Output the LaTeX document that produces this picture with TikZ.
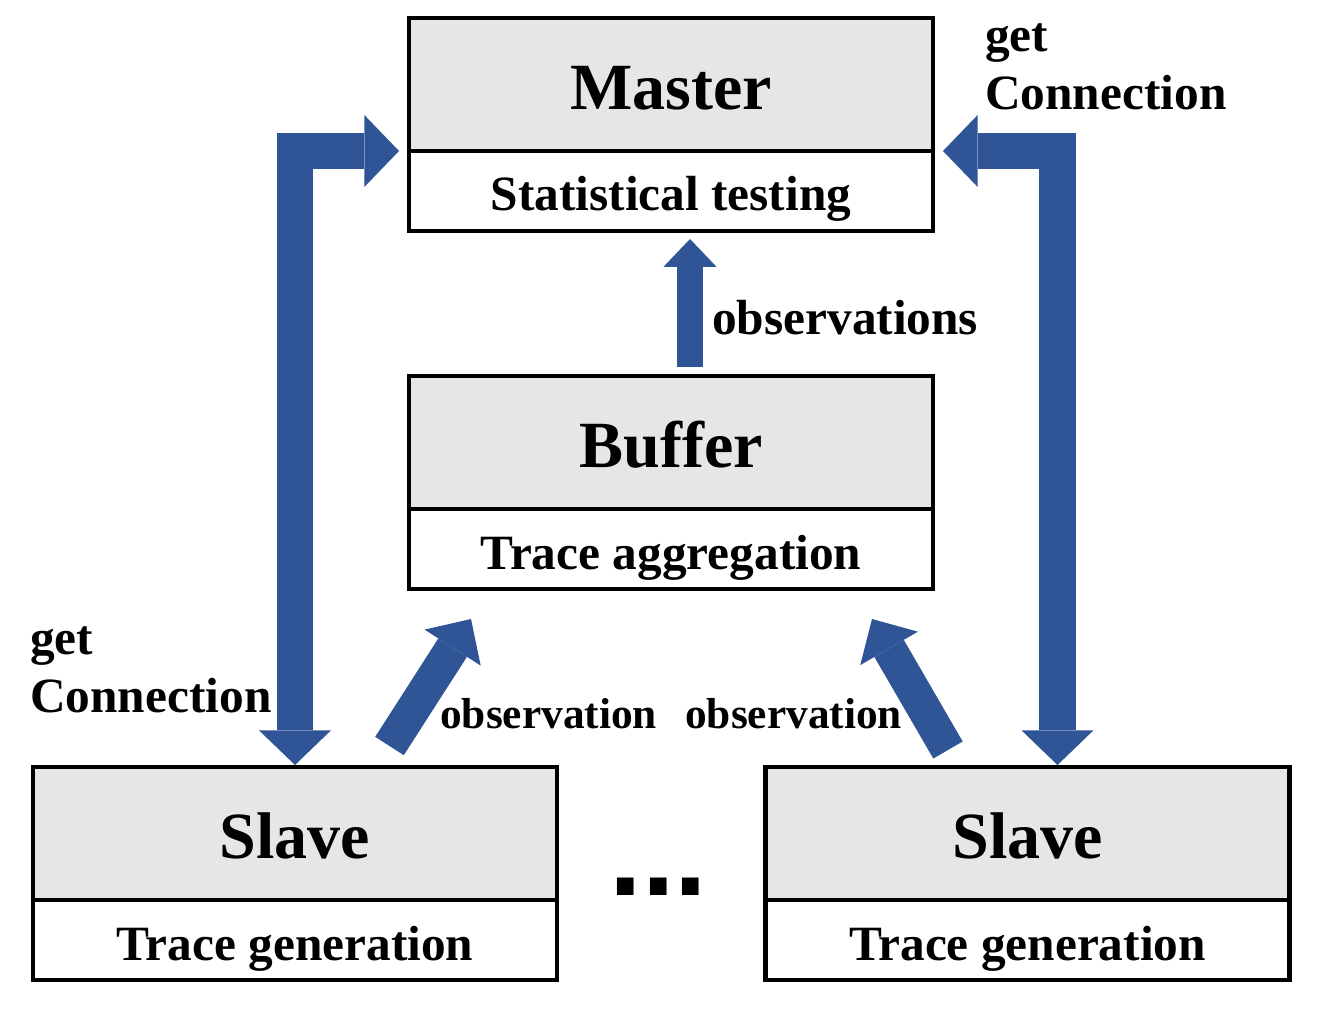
\documentclass[tikz,border=0pt]{standalone}
\usepackage{fontspec}
\setmainfont{Liberation Serif}
\newfontfamily\dotsfont{Liberation Sans}
\usepackage{tikz}
\usetikzlibrary{calc}
\usetikzlibrary{arrows.meta}

\definecolor{linkblue}{RGB}{47,85,151}
\definecolor{headgrey}{RGB}{230,230,230}

\tikzset{
  headbox/.style={draw, fill=headgrey, line width=3.7pt, inner sep=0pt, outer sep=0pt,
    minimum width=393pt, minimum height=99.75pt, text height=37pt, text depth=0pt,
    font=\fontsize{49.5}{59}\selectfont\bfseries},
  taskbox/.style={draw, fill=white, line width=3.7pt, inner sep=0pt, outer sep=0pt,
    minimum width=393pt, minimum height=60pt, text height=30pt, text depth=0pt,
    font=\fontsize{37}{43.5}\selectfont\bfseries},
  lbl/.style={inner sep=0pt, anchor=base west, font=\fontsize{37}{43.5}\selectfont\bfseries},
  obs/.style={inner sep=0pt, anchor=base west, font=\fontsize{32.5}{39}\selectfont\bfseries},
  link/.style={draw=linkblue, line width=27.5pt, <->,
    >={Triangle[length=26pt,width=54pt,line width=0pt]}},
  feed/.style={draw=linkblue, line width=20pt, ->,
    >={Triangle[length=21pt,width=40pt,line width=0pt]}},
  feedd/.style={draw=linkblue, line width=25.5pt, ->,
    >={Triangle[length=25.5pt,width=50pt,line width=0pt]}},
}

\begin{document}
\begin{tikzpicture}[x=0.75pt,y=-0.75pt]
\useasboundingbox (0,0) rectangle (1318,1009);
% master
\node[headbox] (headM) at (671,84.5) {Master};
\node[taskbox] (taskM) at (671,191) {Statistical testing};
% buffer
\node[headbox] (headB) at (671,442.5) {Buffer};
\node[taskbox] (taskB) at (671,549) {Trace aggregation};
% slaves
\node[headbox] (headSL) at (295,833.5) {Slave};
\node[taskbox] (taskSL) at (295,940) {Trace generation};
\node[headbox] (headSR) at (1027.5,833.5) {Slave};
\node[taskbox] (taskSR) at (1027.5,940) {Trace generation};
\node[inner sep=0pt, anchor=base, font=\fontsize{88}{96}\dotsfont\bfseries] (dots) at (658.5,895) {...};

% connections
\draw[link, shorten <=7.5pt, shorten >=1.5pt] (headM.south west) -| (headSL.north);
\draw[link, shorten <=7.5pt, shorten >=1.5pt] (headM.south east) -| ($(headSR.north)+(30,0)$);
\draw[feed, shorten <=6.5pt, shorten >=6pt] ($(headB.north)+(19,0)$) -- ($(taskM.south)+(19,0)$);
\draw[feedd] ($(headSL.north)+(94.5,-21)$) -- ($(taskB.south)+(-200,30)$);
\draw[feedd] ($(headSR.north)+(-79.5,-17)$) -- ($(taskB.south)+(201,30)$);

% labels
\node[lbl, align=left] (getM) at (985,110) {get\\Connection};
\node[lbl, align=left] (getS) at (30,712) {get\\Connection};
\node[lbl] (obsM) at (712,335) {observations};
\node[obs] (obsL) at (440,728) {observation};
\node[obs] (obsR) at (685,728) {observation};
\end{tikzpicture}
\end{document}
